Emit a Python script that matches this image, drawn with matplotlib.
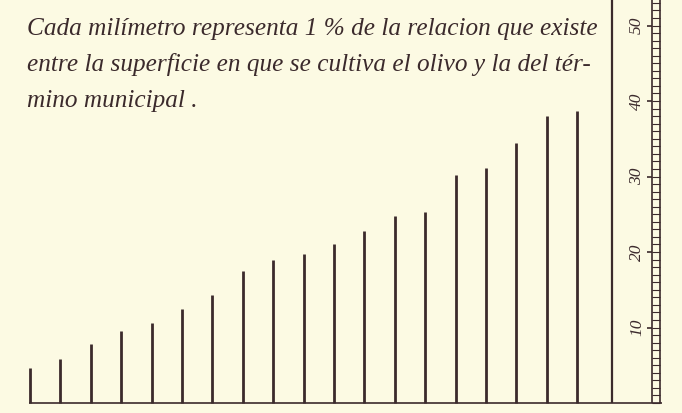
import matplotlib.pyplot as plt
import numpy as np

# percentage of municipal area planted with olive trees, one line per municipality
valores = [4.6, 5.8, 7.8, 9.5, 10.6, 12.5, 14.3, 17.5, 18.9, 19.7,
           21.1, 22.8, 24.8, 25.3, 30.2, 31.1, 34.4, 38.0, 38.7]
escala = [10, 20, 30, 40, 50]
leyenda = ["Cada milímetro representa 1 % de la relacion que existe",
           "entre la superficie en que se cultiva el olivo y la del tér-",
           "mino municipal ."]

papel = '#fcfae3'
tinta = '#3b2a2c'

fig = plt.figure(figsize=(6.82, 4.13), dpi=100, facecolor=papel)
ax = fig.add_axes([0, 0, 1, 1])
ax.set_facecolor(papel)

x = np.arange(len(valores))
ax.vlines(x, 0, valores, color=tinta, lw=2.0)

# pixel-ish mapping: first line at 30 px, spacing ~30.4 px, 7.55 px per unit
ax.set_xlim(-0.987, 21.45)
ax.set_ylim(-1.32, 53.38)
ax.axis('off')

# baseline and frame line
ax.hlines(0, -0.02, 20.8, color=tinta, lw=1.2)
ax.vlines(19.15, 0, 54, color=tinta, lw=1.6)

# ruler on the right
r1, r2 = 20.47, 20.73
ax.vlines([r1, r2], 0, 54, color=tinta, lw=1.2)
ax.hlines(np.arange(0, 54), r1, r2, color=tinta, lw=0.8)
ax.hlines(escala, r1 - 0.18, r1, color=tinta, lw=1.2)
for v in escala:
    ax.text(r1 - 0.5, v, str(v), rotation=90, ha='center', va='center',
            fontsize=12.5, style='italic', family='Liberation Serif', color=tinta)

# caption
for i, (linea, y) in enumerate(zip(leyenda, [29, 64, 101])):
    fig.text(27 / 682, 1 - y / 413, linea, ha='left', va='center',
             fontsize=18.2, style='italic', family='Liberation Serif', color=tinta)

fig.savefig('out.png', dpi=100, facecolor=papel)
